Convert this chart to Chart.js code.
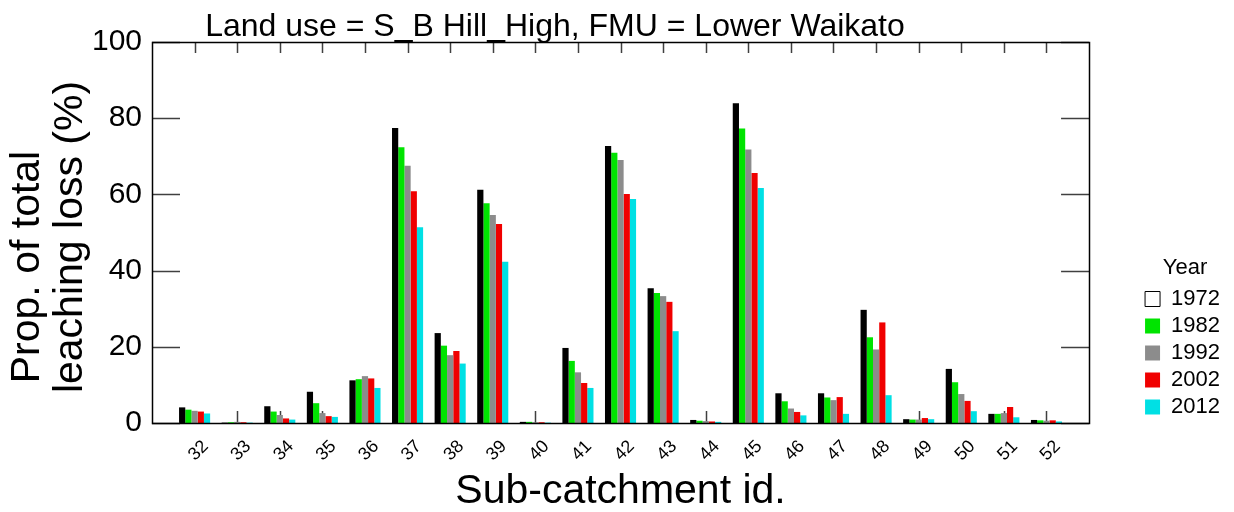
<!DOCTYPE html>
<html>
<head>
<meta charset="utf-8">
<script src="https://cdn.jsdelivr.net/npm/chart.js@4/dist/chart.umd.min.js"></script>
<style>
  html,body{margin:0;padding:0;background:#fff;}
  #box{width:1234px;height:512px;}
</style>
</head>
<body>
<div id="box"><canvas id="grafica"></canvas></div>
<script>
// sub-catchments and leaching share per year (%)
const ids=['32','33','34','35','36','37','38','39','40','41','42','43','44','45','46','47','48','49','50','51','52'];
const years=['1972','1982','1992','2002','2012'];
const v1972=[4.1,0.1,4.4,8.2,11.2,77.4,23.6,61.2,0.3,19.7,72.7,35.4,0.8,83.9,7.8,7.8,29.7,1.0,14.2,2.4,0.8];
const v1982=[3.5,0.2,3.0,5.2,11.5,72.4,20.3,57.7,0.3,16.3,70.9,34.1,0.6,77.3,5.7,6.7,22.5,0.9,10.7,2.4,0.7];
const v1992=[3.2,0.3,2.1,2.6,12.3,67.5,17.8,54.6,0.2,13.3,69.0,33.3,0.5,71.8,3.8,6.0,19.3,0.9,7.6,2.6,0.6];
const v2002=[3.0,0.2,1.2,1.8,11.7,60.8,18.9,52.2,0.2,10.5,60.1,31.8,0.4,65.6,2.9,6.8,26.4,1.3,5.8,4.2,0.7];
const v2012=[2.5,0.1,0.9,1.6,9.2,51.4,15.6,42.3,0.1,9.2,58.8,24.1,0.3,61.7,2.0,2.4,7.3,1.0,3.1,1.5,0.4];
const yTicks=[0,20,40,60,80,100];

const colores=['#000000','#00e400','#8c8c8c','#f00000','#00e0e4'];
const FONT="'Liberation Sans', Arial, sans-serif";

// empty slot on each side so the groups sit one step in from the frame
const etiquetas=['',...ids,''];
const pad=arr=>[null,...arr,null];
const series=[v1972,v1982,v1992,v2002,v2012];

// frame, inward ticks and the free-standing texts
const marco={
    id:'marco',
    beforeDatasetsDraw(chart){
        const {ctx,chartArea:a,scales:{x}}=chart;
        ctx.save();
        ctx.strokeStyle='#404040';
        ctx.lineWidth=1.5;
        ctx.beginPath();
        ids.forEach((id,i)=>{
            const px=Math.round(x.getPixelForValue(i+1))+0.5;
            ctx.moveTo(px,a.bottom);
            ctx.lineTo(px,a.bottom-12);
        });
        ctx.stroke();
        ctx.restore();
    },
    afterDatasetsDraw(chart){
        const {ctx,chartArea:a,scales:{x,y}}=chart;
        ctx.save();
        ctx.strokeStyle='#404040';
        ctx.lineWidth=1.5;
        ctx.beginPath();
        ids.forEach((id,i)=>{
            const px=Math.round(x.getPixelForValue(i+1))+0.5;
            ctx.moveTo(px,a.top);
            ctx.lineTo(px,a.top+11);
        });
        yTicks.forEach(t=>{
            const py=Math.round(y.getPixelForValue(t))+0.5;
            ctx.moveTo(a.left,py);
            ctx.lineTo(a.left+28,py);
            ctx.moveTo(a.right,py);
            ctx.lineTo(a.right-28,py);
        });
        ctx.stroke();
        ctx.strokeStyle='#000';
        ctx.lineWidth=1.5;
        ctx.strokeRect(Math.round(a.left)+0.5,Math.round(a.top)+0.5,Math.round(a.width),Math.round(a.height));
        ctx.restore();
    },
    afterDraw(chart){
        const {ctx}=chart;
        ctx.save();
        ctx.fillStyle='#000';
        ctx.font='32px '+FONT;
        ctx.textAlign='center';
        ctx.textBaseline='alphabetic';
        ctx.fillText('Land use = S_B Hill_High, FMU = Lower Waikato',555,36);

        // two-line axis title, bottom-heavy like the original plot
        ctx.font='41px '+FONT;
        ctx.save();
        ctx.translate(39,267);
        ctx.rotate(-Math.PI/2);
        ctx.fillText('Prop. of total',0,0);
        ctx.restore();
        ctx.save();
        ctx.translate(82,237);
        ctx.rotate(-Math.PI/2);
        ctx.fillText('leaching loss (%)',0,0);
        ctx.restore();
        ctx.restore();
    }
};

window.onload=function(){
    const ctx=document.getElementById('grafica');

    new Chart(ctx,{
        type:'bar',
        data:{
            labels:etiquetas,
            datasets:years.map((yr,i)=>({
                label:yr,
                data:pad(series[i]),
                backgroundColor:colores[i],
                borderWidth:0
            }))
        },
        options:{
            responsive:true,
            maintainAspectRatio:false,
            animation:false,
            layout:{padding:{top:42,left:0,right:4,bottom:0}},
            datasets:{bar:{categoryPercentage:0.73,barPercentage:1.0}},
            scales:{
                x:{
                    offset:false,
                    grid:{display:false,drawTicks:false},
                    border:{display:false},
                    ticks:{
                        autoSkip:false,
                        maxRotation:45,
                        minRotation:45,
                        labelOffset:11,
                        padding:13,
                        color:'#000',
                        font:{family:FONT,size:18}
                    },
                    title:{
                        display:true,
                        text:'Sub-catchment id.',
                        color:'#000',
                        font:{family:FONT,size:41},
                        padding:{top:0,bottom:-4}
                    },
                    afterFit(s){ s.height=89; }
                },
                y:{
                    min:0,
                    max:100,
                    grid:{display:false,drawTicks:false},
                    border:{display:false},
                    ticks:{
                        stepSize:20,
                        padding:10,
                        color:'#000',
                        font:{family:FONT,size:30}
                    },
                    afterFit(s){ s.width=152; }
                },
                y2:{
                    type:'linear',
                    position:'right',
                    display:true,
                    min:0,
                    max:100,
                    grid:{display:false,drawTicks:false},
                    border:{display:false},
                    ticks:{display:false},
                    afterFit(s){ s.width=51; }
                }
            },
            plugins:{
                legend:{
                    position:'right',
                    align:'end',
                    fullSize:false,
                    title:{
                        display:true,
                        text:'Year',
                        color:'#000',
                        font:{family:FONT,size:22}
                    },
                    labels:{
                        boxWidth:15,
                        boxHeight:15,
                        padding:5,
                        color:'#000',
                        font:{family:FONT,size:22},
                        generateLabels(chart){
                            const items=Chart.defaults.plugins.legend.labels.generateLabels(chart);
                            items.forEach((it,i)=>{
                                it.lineWidth=0;
                                if(i===0){
                                    it.fillStyle='#ffffff';
                                    it.strokeStyle='#000';
                                    it.lineWidth=1;
                                }
                            });
                            return items;
                        }
                    }
                },
                tooltip:{enabled:false}
            }
        },
        plugins:[marco]
    });
};
</script>
</body>
</html>
